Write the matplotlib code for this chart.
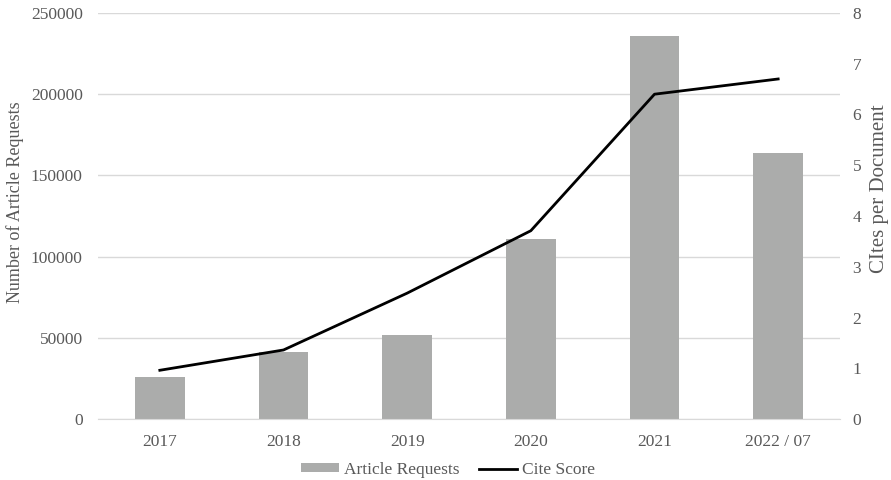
import matplotlib.pyplot as plt
import numpy as np

# Article requests and CiteScore per year
years = ["2017", "2018", "2019", "2020", "2021", "2022 / 07"]
article_requests = [26000, 41000, 52000, 111000, 236000, 164000]
cite_score = [0.96, 1.36, 2.48, 3.71, 6.40, 6.70]

TEXT = "#595959"
BAR = "#ABACAB"
GRID = "#D9D9D9"

plt.rcParams["font.family"] = ["Liberation Serif", "DejaVu Serif"]
plt.rcParams["font.size"] = 12.5

fig = plt.figure(figsize=(8.91, 4.8), dpi=100)
ax = fig.add_axes([98 / 891, 1 - 419 / 480, 742 / 891, 406 / 480])
ax2 = ax.twinx()

x = np.arange(len(years))
bars = ax.bar(x, article_requests, width=0.4, color=BAR, label="Article Requests", zorder=2)
line, = ax2.plot(x, cite_score, color="black", linewidth=2, label="Cite Score", zorder=3)

ax.set_xlim(-0.5, len(years) - 0.5)
ax.set_ylim(0, 250000)
ax.set_yticks(np.arange(0, 250001, 50000))
ax2.set_ylim(0, 8)
ax2.set_yticks(range(0, 9))

ax.set_xticks(x)
ax.set_xticklabels(years)
ax.yaxis.grid(True, color=GRID, linewidth=1, zorder=0)
ax.set_axisbelow(True)

for a in (ax, ax2):
    for s in a.spines.values():
        s.set_visible(False)
    a.tick_params(length=0, colors=TEXT, labelsize=12.5)
ax.spines["bottom"].set_visible(True)
ax.spines["bottom"].set_color(GRID)
ax.tick_params(axis="x", pad=11)
ax.tick_params(axis="y", pad=11)
ax2.tick_params(axis="y", pad=9)

# axis titles, placed by hand in axes coordinates
ax.set_ylabel("Number of Article Requests", color=TEXT, fontsize=13, va="center")
ax.yaxis.set_label_coords(-0.112, 0.534)
ax2.set_ylabel("CItes per Document", color=TEXT, fontsize=15, rotation=90, va="center")
ax2.yaxis.set_label_coords(1.053, 0.567)

fig.legend(handles=[bars, line], loc="center", bbox_to_anchor=(448 / 891, 1 - 470 / 480),
           ncol=2, frameon=False, fontsize=12.5, labelcolor=TEXT,
           handlelength=2.2, handleheight=0.45, handletextpad=0.3, columnspacing=1.1)

fig.savefig("out.png", dpi=100)
